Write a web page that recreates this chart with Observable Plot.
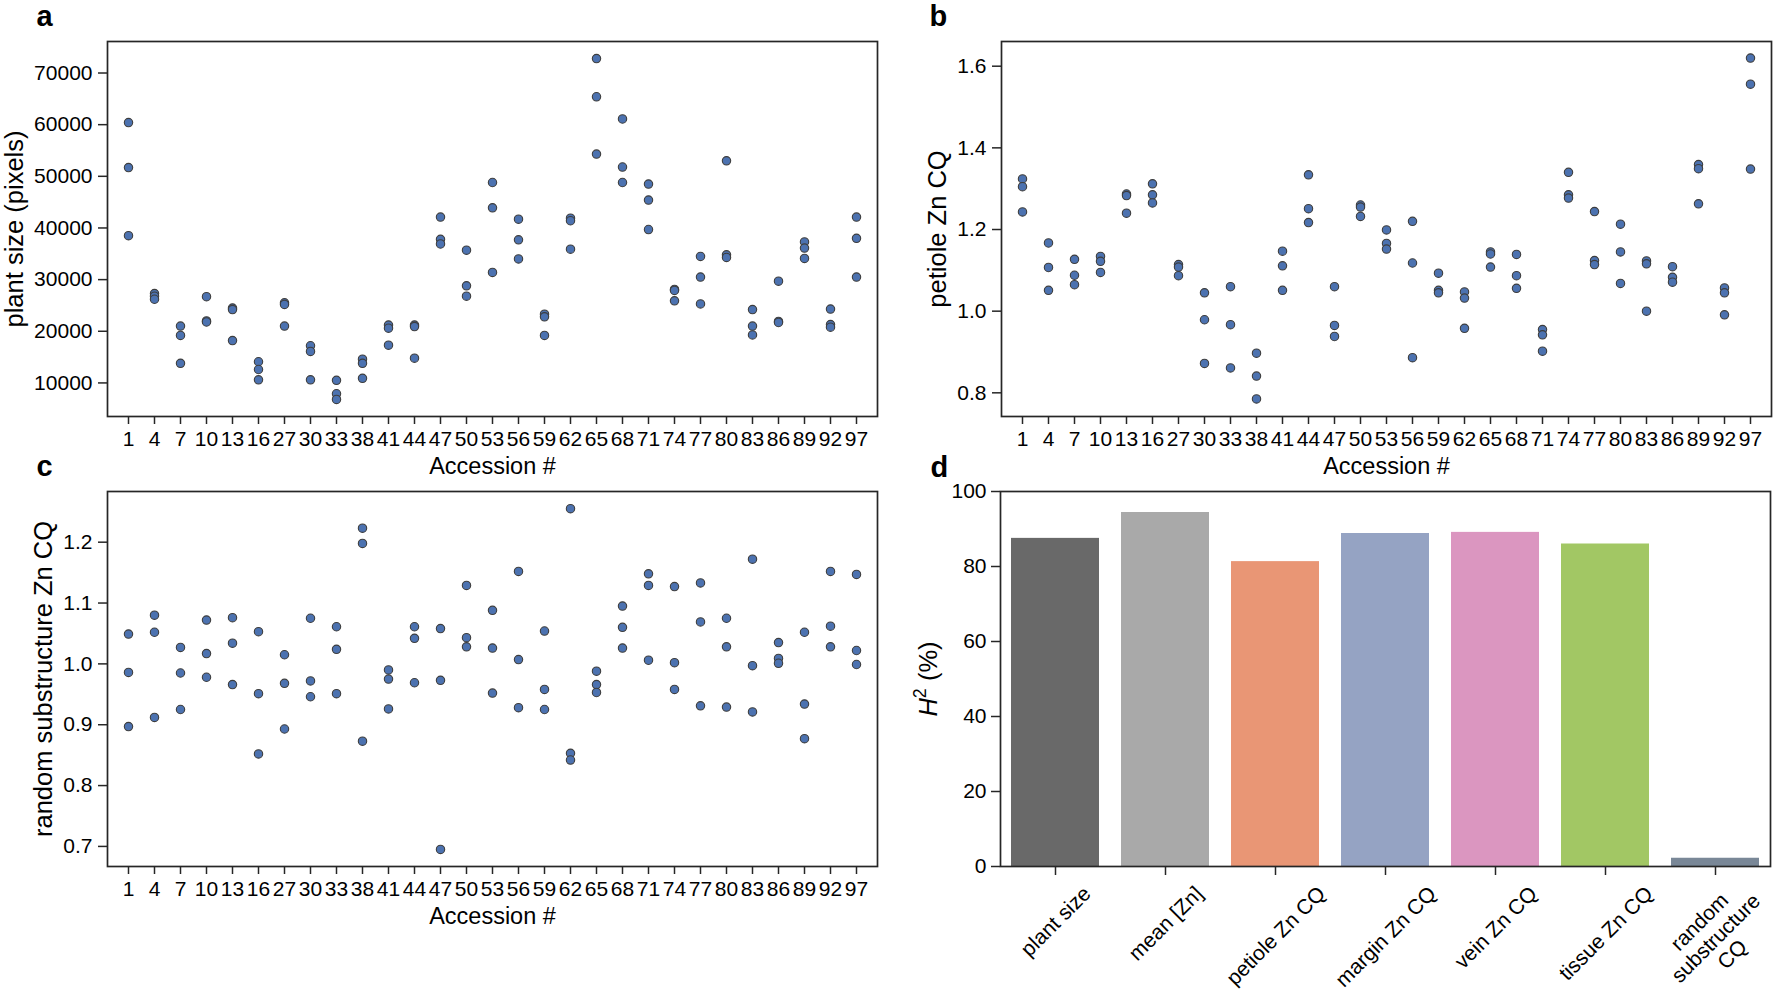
<!DOCTYPE html>
<html><head><meta charset="utf-8">
<script src="https://cdn.jsdelivr.net/npm/d3@7"></script>
<script src="https://cdn.jsdelivr.net/npm/@observablehq/plot@0.6"></script>
<style>
body{margin:0;background:#fff;}
#fig{position:relative;width:1773px;height:995px;overflow:hidden;background:#fff;}
.panel{position:absolute;}
</style></head><body><div id="fig"></div>
<script>
// ---------- data ----------
const accessions = ["1","4","7","10","13","16","27","30","33","38","41","44","47","50","53","56","59","62","65","68","71","74","77","80","83","86","89","92","97"];

const plantSize = [
  [60400,51700,38500],[27300,26800,26200],[21000,19200,13800],[26700,22000,21800],
  [24500,24200,18200],[14100,12600,10600],[25500,25200,21000],[17200,16100,10600],
  [10500,7900,6800],[14600,13800,10900],[21200,20600,17300],[21200,20900,14800],
  [42100,37800,36900],[35700,28800,26800],[48800,43900,31400],[41700,37700,34000],
  [23300,22800,19200],[41900,41400,35900],[72800,65400,54300],[61100,51800,48800],
  [48500,45400,39700],[28100,27900,25900],[34500,30500,25300],[53000,34800,34300],
  [24200,21000,19300],[29700,21900,21700],[37300,36100,34100],[24300,21300,20800],
  [42100,38000,30500]
];

const petioleCQ = [
  [1.324,1.305,1.243],[1.167,1.107,1.051],[1.127,1.088,1.065],[1.134,1.122,1.095],
  [1.287,1.283,1.240],[1.312,1.285,1.265],[1.114,1.108,1.087],[1.045,0.979,0.872],
  [1.060,0.967,0.861],[0.897,0.841,0.785],[1.147,1.111,1.051],[1.334,1.251,1.217],
  [1.060,0.965,0.938],[1.260,1.255,1.232],[1.199,1.166,1.152],[1.220,1.118,0.886],
  [1.093,1.051,1.045],[1.047,1.032,0.958],[1.145,1.140,1.108],[1.139,1.087,1.056],
  [0.955,0.942,0.902],[1.340,1.285,1.277],[1.244,1.124,1.114],[1.213,1.145,1.068],
  [1.123,1.116,1.000],[1.109,1.083,1.071],[1.359,1.349,1.263],[1.057,1.045,0.991],
  [1.620,1.556,1.348]
];

const randomCQ = [
  [1.049,0.986,0.897],[1.080,1.052,0.912],[1.027,0.985,0.925],[1.072,1.017,0.978],
  [1.076,1.034,0.966],[1.053,0.951,0.852],[1.015,0.968,0.893],[1.075,0.972,0.946],
  [1.061,1.024,0.951],[1.223,1.198,0.873],[0.990,0.975,0.926],[1.061,1.042,0.969],
  [1.058,0.973,0.695],[1.129,1.043,1.028],[1.088,1.026,0.952],[1.152,1.007,0.928],
  [1.054,0.958,0.925],[1.255,0.853,0.842],[0.988,0.966,0.953],[1.095,1.060,1.026],
  [1.148,1.129,1.006],[1.127,1.002,0.958],[1.133,1.069,0.931],[1.075,1.028,0.929],
  [1.172,0.997,0.921],[1.035,1.009,1.001],[1.052,0.934,0.877],[1.152,1.062,1.028],
  [1.147,1.022,0.999]
];

const traits = ["plant size","mean [Zn]","petiole Zn CQ","margin Zn CQ","vein Zn CQ","tissue Zn CQ","random\nsubstructure\nCQ"];
const heritability = [87.5,94.4,81.3,88.8,89.1,86.0,2.2];
const traitColors = ["#696969","#a9a9a9","#e99675","#95a3c3","#db96c0","#a2c764","#798797"];

const plantTicks = [10000,20000,30000,40000,50000,60000,70000];
const petioleTicks = [0.8,1.0,1.2,1.4,1.6];
const randomTicks = [0.7,0.8,0.9,1.0,1.1,1.2];
const h2Ticks = [0,20,40,60,80,100];

// ---------- style ----------
const FONT = "'Liberation Sans', Arial, Helvetica, sans-serif";
const INK = "#262626";
const DOT = "#4c72b0", DOT_EDGE = "#3d3d3d";
const TICK_FS = 21, YLAB_FS = 25.5, XLAB_FS = 23.5, LETTER_FS = 29;

const baseStyle = {fontFamily: FONT, fontSize: TICK_FS + "px", color: "#000", background: "transparent", overflow: "visible", maxWidth: "none"};

function tidy(values) {
  return accessions.flatMap((a, i) => values[i].map(v => ({accession: a, value: v})));
}

function scatter(o) {
  const data = tidy(o.values);
  return Plot.plot({
    width: o.W, height: o.H,
    marginTop: o.mt, marginRight: o.mr, marginBottom: o.mb, marginLeft: o.ml,
    style: baseStyle,
    x: {type: "point", domain: accessions, padding: 0.5},
    y: {domain: o.domain},
    marks: [
      Plot.dot(data, {x: "accession", y: "value", r: 4.2, fill: DOT, stroke: DOT_EDGE, strokeWidth: 1.1}),
      Plot.frame({stroke: INK, strokeWidth: 1.7}),
      Plot.axisX({tickSize: 8, tickPadding: 7, stroke: INK, strokeWidth: 1.5, fontSize: TICK_FS, label: null}),
      Plot.axisY({ticks: o.ticks, tickFormat: o.format, tickSize: 9, tickPadding: 6, stroke: INK, strokeWidth: 1.5, fontSize: TICK_FS, label: null}),
      Plot.text([o.yLabel], {text: d => d, frameAnchor: "left", dx: o.yLabelDx, rotate: -90, textAnchor: "middle", lineAnchor: "bottom", fontSize: YLAB_FS}),
      Plot.text(["Accession #"], {text: d => d, frameAnchor: "bottom", dy: 57, lineAnchor: "bottom", fontSize: XLAB_FS}),
      Plot.text([o.letter], {text: d => d, frameAnchor: "top-left", dx: o.letterDx, dy: -16, textAnchor: "start", lineAnchor: "bottom", fontSize: LETTER_FS, fontWeight: "bold"})
    ]
  });
}

const ctx = document.createElement("canvas").getContext("2d");
ctx.font = TICK_FS + "px 'Liberation Sans'";
function labelOffset(t) {
  const lines = t.split("\n");
  const w = d3.max(lines, l => ctx.measureText(l).width);
  const extra = lines.length > 1 ? -9 : 0;
  return 15 + extra + (w + lines.length * TICK_FS * 1.1) * 0.3536;
}

function barPanel() {
  const bars = traits.map((t, i) => ({trait: t, h2: heritability[i], color: traitColors[i]}));
  const svg = Plot.plot({
    width: 883, height: 545,
    marginTop: 41, marginRight: 3, marginBottom: 129, marginLeft: 110,
    style: baseStyle,
    x: {type: "band", domain: traits, paddingInner: 0.2, paddingOuter: 0.1},
    y: {domain: [0, 100]},
    color: {type: "identity"},
    marks: [
      Plot.barY(bars, {x: "trait", y: "h2", fill: "color"}),
      Plot.frame({stroke: INK, strokeWidth: 1.7}),
      Plot.axisX({tickSize: 9, tickFormat: () => "", stroke: INK, strokeWidth: 1.5, label: null}),
      Plot.axisY({ticks: h2Ticks, tickFormat: "d", tickSize: 9, tickPadding: 5, stroke: INK, strokeWidth: 1.5, fontSize: TICK_FS, label: null}),
      ...traits.map(t => Plot.text([t], {x: d => d, text: d => d, frameAnchor: "bottom", dy: labelOffset(t), rotate: -45, textAnchor: "middle", lineAnchor: "middle", lineHeight: 1.1, fontSize: TICK_FS})),
      Plot.text(["H2 (%)"], {text: d => d, frameAnchor: "left", dx: -64, rotate: -90, textAnchor: "middle", lineAnchor: "bottom", fontSize: YLAB_FS}),
      Plot.text(["d"], {text: d => d, frameAnchor: "top-left", dx: -70, dy: -15, textAnchor: "start", lineAnchor: "bottom", fontSize: LETTER_FS, fontWeight: "bold"})
    ]
  });
  // italic H with superscript 2
  const t = [...svg.querySelectorAll("text")].find(e => e.textContent === "H2 (%)");
  if (t) {
    const NS = "http://www.w3.org/2000/svg";
    while (t.firstChild) t.removeChild(t.firstChild);
    const a = document.createElementNS(NS, "tspan"); a.setAttribute("font-style", "italic"); a.textContent = "H";
    const b = document.createElementNS(NS, "tspan"); b.setAttribute("font-size", YLAB_FS * 0.7); b.setAttribute("dy", -YLAB_FS * 0.42); b.textContent = "2";
    const c = document.createElementNS(NS, "tspan"); c.setAttribute("dy", YLAB_FS * 0.42); c.textContent = " (%)";
    t.append(a, b, c);
  }
  return svg;
}

function place(node, left, top, width) {
  const div = document.createElement("div");
  div.className = "panel";
  div.style.left = left + "px"; div.style.top = top + "px"; div.style.width = width + "px";
  div.appendChild(node);
  document.getElementById("fig").appendChild(div);
}

place(scatter({values: plantSize, domain: [3500, 76100], ticks: plantTicks, format: "d", yLabel: "plant size (pixels)", letter: "a",
  W: 890, H: 490, mt: 41, mr: 13, mb: 74, ml: 107, yLabelDx: -85, letterDx: -71}), 0, 0, 890);
place(scatter({values: petioleCQ, domain: [0.742, 1.6605], ticks: petioleTicks, format: ".1f", yLabel: "petiole Zn CQ", letter: "b",
  W: 883, H: 490, mt: 41, mr: 2, mb: 74, ml: 111, yLabelDx: -56, letterDx: -72}), 890, 0, 883);
place(scatter({values: randomCQ, domain: [0.667, 1.2833], ticks: randomTicks, format: ".1f", yLabel: "random substructure Zn CQ", letter: "c",
  W: 890, H: 545, mt: 41, mr: 13, mb: 129, ml: 107, yLabelDx: -56, letterDx: -71}), 0, 450, 890);
place(barPanel(), 890, 450, 883);
</script></body></html>
